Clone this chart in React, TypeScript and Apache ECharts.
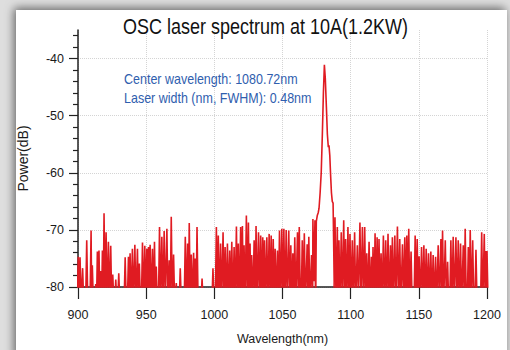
import React, { useEffect, useRef } from "react";
import * as echarts from "echarts";

const TITLE = "OSC laser spectrum at 10A(1.2KW)";
const NOTE_LINES = ["Center wavelength: 1080.72nm", "Laser width (nm, FWHM): 0.48nm"];
const X_NAME = "Wavelength(nm)";
const Y_NAME = "Power(dB)";

const Y_MAJOR = [-80, -70, -60, -50, -40];
const Y_MINOR = [-78, -76, -74, -72, -68, -66, -64, -62, -58, -56, -54, -52, -48, -46, -44, -42, -38, -36];

// level just below the display range (noise floor is clipped by the axis)
const FLOOR = -83;

// noise spikes, short-wavelength side
const leftNm = [
  900.2, 901.5, 903.4, 906.4, 909.6, 910.5, 913.0, 914.2, 915.4, 916.7, 917.9, 919.1, 920.6, 922.3, 924.0,
  925.5, 927.7, 929.9, 934.6, 937.0, 938.2, 939.9, 941.7, 943.6, 945.0, 947.3, 949.0, 950.5, 951.7, 952.9,
  954.6, 956.1, 957.4, 959.8, 961.5, 963.2, 965.2, 966.9, 968.4, 970.1, 972.1, 975.0, 978.7, 980.4, 981.6,
  983.1, 984.8, 986.0, 987.3, 991.0, 999.0, 1001.5, 1002.9, 1004.6, 1006.4, 1007.9, 1009.6, 1011.3, 1012.8,
  1014.5, 1016.2, 1017.6, 1019.3, 1020.6, 1021.8, 1023.5, 1025.0, 1026.2, 1027.4, 1029.2, 1030.6, 1032.4,
  1034.0, 1035.5, 1036.8, 1038.5, 1040.2, 1041.7, 1043.2, 1044.6, 1046.3, 1047.8, 1049.5, 1051.0, 1052.7,
  1054.6, 1056.1, 1057.6, 1059.0, 1061.0, 1062.3, 1064.5, 1066.0, 1068.1, 1069.3, 1071.3,
];
const leftDb = [
  -74.7, -74.8, -76.7, -71.8, -70.1, -76.2, -79.5, -73.8, -73.6, -77.2, -73.6, -67.1, -70.4, -72.1, -72.8,
  -77.8, -78.7, -77.6, -74.8, -74.7, -74.1, -73.3, -72.6, -73.3, -75.9, -72.2, -72.8, -73.3, -73.0, -72.6,
  -73.3, -72.1, -76.4, -69.5, -71.2, -70.2, -69.8, -75.3, -67.7, -74.3, -79.3, -76.7, -71.2, -72.4, -68.8,
  -74.3, -74.0, -75.0, -69.5, -78.5, -76.7, -69.5, -71.0, -72.4, -70.4, -73.0, -72.4, -73.6, -72.1,
  -73.0, -69.4, -72.4, -69.5, -69.3, -72.7, -67.5, -68.7, -72.4, -74.4, -71.8, -69.3, -70.4,
  -71.0, -71.3, -71.8, -71.3, -70.7, -71.0, -71.6, -73.3, -73.6, -70.1, -69.8, -69.8, -70.0,
  -70.1, -72.7, -74.1, -71.3, -70.4, -69.5, -71.8, -70.6, -72.5, -71.2, -74.4,
];

// emission peak trace
const peakNm = [
  1072.3, 1073.0, 1073.8, 1074.3, 1074.8, 1075.5, 1076.2, 1076.8, 1077.6, 1078.4, 1079.2, 1080.0, 1080.72,
  1081.4, 1082.2, 1082.9, 1083.6, 1084.1, 1084.7, 1085.3, 1085.9, 1086.5, 1087.1, 1087.5, 1087.9,
];
const peakDb = [
  -68.1, -79.0, -68.3, -85.0, -68.5, -67.5, -67.0, -66.2, -63.5, -60.0, -53.5, -46.0, -41.1,
  -43.5, -48.5, -53.2, -55.5, -55.2, -57.0, -60.5, -63.5, -65.0, -65.3, -72.0, -79.0,
];

// noise spikes, long-wavelength side
const rightNm = [
  1088.5, 1090.2, 1091.4, 1093.1, 1094.9, 1096.3, 1098.0, 1099.5, 1101.2, 1102.9, 1104.9, 1106.8, 1108.6,
  1110.3, 1111.8, 1113.5, 1115.2, 1116.4, 1117.9, 1119.4, 1120.8, 1122.3, 1124.0, 1125.7, 1127.4, 1129.2,
  1130.6, 1132.4, 1134.3, 1136.0, 1138.0, 1139.7, 1141.2, 1142.6, 1144.3, 1147.3, 1148.8, 1150.2, 1152.0,
  1153.7, 1155.4, 1157.1, 1158.8, 1160.5, 1162.3, 1164.2, 1166.2, 1167.4, 1169.4, 1171.1, 1173.5, 1175.2,
  1177.2, 1178.9, 1180.6, 1182.6, 1184.0, 1186.3, 1187.7, 1189.5, 1191.9, 1196.1, 1198.0, 1199.3, 1200.0,
];
const rightDb = [
  -67.8, -69.5, -71.8, -70.4, -68.3, -71.6, -69.5, -70.7, -71.8, -70.4, -72.7, -68.7, -69.5,
  -69.5, -74.1, -72.1, -74.7, -73.0, -70.6, -71.3, -71.6, -74.1, -71.0, -71.8, -70.7, -72.7,
  -71.3, -71.0, -69.4, -71.6, -72.5, -71.3, -71.0, -69.8, -73.8, -71.0, -71.6, -74.6, -73.0,
  -72.7, -73.3, -74.1, -73.8, -74.4, -74.7, -72.7, -71.6, -70.1, -71.8, -75.6, -71.8, -71.2,
  -71.3, -71.8, -72.4, -72.7, -69.8, -73.0, -70.0, -71.8, -73.5, -70.4, -70.7, -73.7, -73.7,
];

function noiseTrace(nm: number[], db: number[]): number[][] {
  const pts: number[][] = [];
  for (let i = 0; i < nm.length; i++) {
    const mid = i > 0 ? (nm[i - 1] + nm[i]) / 2 : -Infinity;
    const lo = Math.max(mid, nm[i] - 0.8);
    if (i === 0 || lo > mid + 1e-6) pts.push([lo, FLOOR]);
    pts.push([nm[i], db[i]]);
    const nextMid = i < nm.length - 1 ? (nm[i] + nm[i + 1]) / 2 : Infinity;
    pts.push([Math.min(nextMid, nm[i] + 0.8), FLOOR]);
  }
  return pts;
}

function buildTrace(): number[][] {
  const peak = peakNm.map((v, i) => [v, peakDb[i]]);
  return [...noiseTrace(leftNm, leftDb), ...peak, ...noiseTrace(rightNm, rightDb)];
}

const FONT = '"Liberation Sans", Arial, Helvetica, sans-serif';

export default function App() {
  const ref = useRef<HTMLDivElement>(null);
  useEffect(() => {
    document.body.style.margin = "0";
    if (!ref.current) return;
    const chart = echarts.init(ref.current, undefined, { renderer: "svg" });
    chart.setOption({
      animation: false,
      backgroundColor: "#dedede",
      textStyle: { fontFamily: FONT },
      graphic: [
        {
          type: "rect",
          z: -10,
          shape: { x: 16, y: 10, width: 491, height: 350 },
          style: {
            fill: "#ffffff",
            shadowBlur: 10,
            shadowColor: "rgba(0,0,0,0.55)",
            shadowOffsetX: -2,
            shadowOffsetY: -2,
          },
        },
        {
          type: "text",
          z: 100,
          x: 123,
          y: 26.7,
          scaleY: 1.22,
          style: {
            text: TITLE,
            x: 0,
            y: 0,
            fill: "#111111",
            font: `18px ${FONT}`,
            align: "left",
            verticalAlign: "middle",
          },
        },
        ...NOTE_LINES.map((t, i) => ({
          type: "text",
          z: 100,
          x: 124,
          y: 79 + i * 19,
          scaleY: 1.12,
          style: {
            text: t,
            x: 0,
            y: 0,
            fill: "#2f5eae",
            font: `12.5px ${FONT}`,
            align: "left",
            verticalAlign: "middle",
          },
        })),
      ],
      grid: { left: 78, right: 23, top: 30, bottom: 61, containLabel: false },
      xAxis: {
        type: "value",
        min: 900,
        max: 1200,
        interval: 50,
        name: X_NAME,
        nameLocation: "middle",
        nameGap: 45,
        nameTextStyle: { color: "#1a1a1a", fontSize: 12.5, fontFamily: FONT },
        axisLine: { show: true, onZero: false, lineStyle: { color: "#222", width: 1.5 } },
        axisTick: { show: true, length: 12, lineStyle: { color: "#222", width: 1.2 } },
        axisLabel: {
          color: "#1a1a1a",
          fontSize: 12.5,
          margin: 21,
          fontFamily: FONT,
          formatter: (v: number) => String(v),
        },
        splitLine: { show: true, lineStyle: { color: "#d4d4d4", type: "dotted", width: 1 } },
      },
      yAxis: [
        {
          type: "value",
          min: -80,
          max: -35,
          interval: 5,
          name: Y_NAME,
          nameLocation: "middle",
          nameGap: 48,
          nameRotate: 90,
          nameTextStyle: { color: "#1a1a1a", fontSize: 14, fontFamily: FONT },
          axisLine: { show: true, onZero: false, lineStyle: { color: "#222", width: 1.5 } },
          axisTick: { show: true, length: 9, customValues: Y_MAJOR, lineStyle: { color: "#222", width: 1.2 } },
          axisLabel: { color: "#1a1a1a", fontSize: 12.5, margin: 14, customValues: Y_MAJOR, fontFamily: FONT },
          splitLine: { show: true, lineStyle: { color: "#d4d4d4", type: "dotted", width: 1 } },
        },
        {
          type: "value",
          min: -80,
          max: -35,
          interval: 5,
          position: "left",
          axisLine: { show: false },
          axisTick: { show: true, length: 5, customValues: Y_MINOR, lineStyle: { color: "#222", width: 1.2 } },
          axisLabel: { show: false },
          splitLine: { show: false },
        },
      ],
      series: [
        {
          type: "line",
          data: buildTrace(),
          showSymbol: false,
          symbol: "none",
          clip: true,
          lineStyle: { color: "#e01b22", width: 1.6 },
          z: 5,
        },
      ],
    });
    return () => chart.dispose();
  }, []);
  return <div ref={ref} style={{ width: 510, height: 350 }} />;
}
